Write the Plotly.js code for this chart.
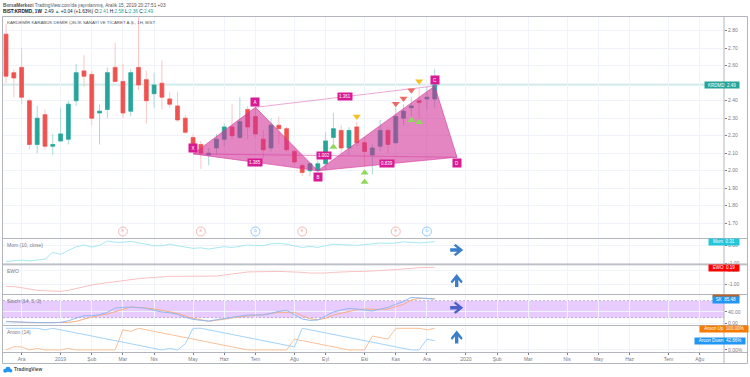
<!DOCTYPE html>
<html>
<head>
<meta charset="utf-8">
<script src="https://cdn.plot.ly/plotly-3.0.1.min.js"></script>
<style>html,body{margin:0;padding:0;background:#fff}#c{width:750px;height:377px}</style>
</head>
<body>
<div id="c"></div>
<script>
const dates = ['2018-11-19','2018-11-26','2018-12-03','2018-12-10','2018-12-17','2018-12-24','2018-12-31',
'2019-01-07','2019-01-14','2019-01-21','2019-01-28','2019-02-04','2019-02-11','2019-02-18','2019-02-25',
'2019-03-04','2019-03-11','2019-03-18','2019-03-25','2019-04-01','2019-04-08','2019-04-15','2019-04-22','2019-04-29',
'2019-05-06','2019-05-13','2019-05-20','2019-05-27','2019-06-03','2019-06-10','2019-06-17','2019-06-24',
'2019-07-01','2019-07-08','2019-07-15','2019-07-22','2019-07-29','2019-08-05','2019-08-12','2019-08-19','2019-08-26',
'2019-09-02','2019-09-09','2019-09-16','2019-09-23','2019-09-30','2019-10-07','2019-10-14','2019-10-21','2019-10-28',
'2019-11-04','2019-11-11','2019-11-18','2019-11-25','2019-12-02','2019-12-09'];
const opens = [2.78,2.56,2.59,2.40,2.15,2.32,2.14,2.17,2.18,2.40,2.57,2.55,2.33,2.35,2.59,2.51,2.34,2.59,2.52,2.44,2.50,2.41,2.37,2.30,2.19,2.15,2.09,2.13,2.18,2.25,2.19,2.35,2.31,2.18,2.13,2.26,2.24,2.11,2.03,2.00,2.00,2.04,2.19,2.23,2.13,2.25,2.16,2.09,2.14,2.23,2.16,2.30,2.36,2.40,2.41,2.41];
const closes = [2.54,2.53,2.42,2.15,2.30,2.14,2.15,2.21,2.38,2.56,2.54,2.30,2.34,2.56,2.51,2.33,2.56,2.49,2.40,2.49,2.42,2.38,2.29,2.22,2.14,2.10,2.10,2.18,2.25,2.20,2.28,2.25,2.21,2.12,2.26,2.24,2.12,2.05,1.99,2.04,2.04,2.17,2.24,2.13,2.23,2.16,2.11,2.13,2.23,2.15,2.31,2.34,2.37,2.39,2.42,2.49];
const highs = [2.84,2.58,2.70,2.41,2.37,2.35,2.21,2.36,2.40,2.61,2.66,2.57,2.38,2.59,2.73,2.61,2.58,2.875,2.57,2.56,2.63,2.45,2.45,2.32,2.21,2.17,2.13,2.21,2.27,2.38,2.42,2.37,2.36,2.23,2.30,2.31,2.25,2.12,2.04,2.05,2.06,2.22,2.33,2.26,2.25,2.28,2.19,2.15,2.29,2.24,2.36,2.38,2.42,2.47,2.48,2.58];
const lows = [2.50,2.42,2.38,2.12,2.10,2.12,2.09,2.17,2.15,2.37,2.48,2.26,2.15,2.30,2.51,2.30,2.31,2.46,2.27,2.36,2.35,2.36,2.28,2.21,2.10,2.01,2.03,2.09,2.14,2.18,2.18,2.18,2.19,2.07,2.11,2.15,2.11,2.03,1.97,1.97,1.99,2.00,2.15,2.10,2.09,2.14,2.02,1.98,2.11,2.10,2.15,2.26,2.31,2.27,2.35,2.36];

const mom = [-0.89,-0.87,-0.82,-0.86,-0.80,-0.77,-0.40,-0.51,-0.29,-0.09,0,-0.11,-0.02,0.22,0.15,0.15,0.20,0.13,0.04,-0.04,-0.04,0.05,-0.04,-0.13,-0.18,-0.15,-0.22,-0.15,-0.09,-0.13,-0.05,0,-0.02,-0.04,0.07,0.09,0.04,-0.05,-0.13,-0.07,-0.13,-0.04,0.04,0.02,0,-0.02,0.02,0.07,0.11,0.09,0.11,0.18,0.15,0.11,0.15,0.18];
const ewo = [-1.17,-1.19,-1.27,-1.39,-1.46,-1.49,-1.54,-1.54,-1.46,-1.32,-1.19,-1.07,-0.98,-0.90,-0.83,-0.78,-0.71,-0.61,-0.56,-0.51,-0.46,-0.44,-0.44,-0.44,-0.42,-0.42,-0.42,-0.42,-0.34,-0.29,-0.20,-0.12,-0.10,-0.08,-0.08,-0.08,-0.10,-0.10,-0.15,-0.20,-0.22,-0.20,-0.15,-0.12,-0.08,-0.08,-0.08,-0.03,0.02,0.02,0.05,0.12,0.14,0.19,0.22,0.22];
const stochK = [5.8,4.6,3.4,2.2,2.2,2.2,2.2,3.4,9.3,18.7,26.9,26.9,30.5,38.7,54.0,56.3,57.5,55.2,52.8,45.8,39.9,37.5,31.6,21.0,14.0,10.5,8.1,12.8,17.5,22.2,25.8,29.3,29.3,29.3,35.2,42.2,45.8,31.6,15.2,10.5,11.6,25.8,39.9,46.9,52.8,50.5,46.9,43.4,50.5,56.3,66.9,77.5,91.6,89.3,88.1,85.5];
const stochD = [6.9,4.6,3.4,2.2,2.2,2.2,2.2,2.2,3.4,6.9,15.2,22.2,28.1,32.8,41.0,49.3,57.5,56.3,54.0,50.5,45.8,41.0,35.2,25.8,17.5,12.8,6.9,10.5,15.2,19.9,23.4,25.8,26.9,30.5,35.2,38.7,38.7,38.7,26.9,16.3,12.8,17.5,29.3,36.3,43.4,48.1,50.5,49.3,49.3,50.5,58.7,66.9,82.2,88.1,88.1,86.9];
const aroonUp = [0,14.29,14.29,0,7.14,0,0,0,7.14,0,0,0,0,0,0,92.86,85.71,100,92.86,85.71,78.57,71.43,64.29,57.14,50,42.86,35.71,28.57,21.43,14.29,7.14,0,0,0,0,0,0,50,42.86,35.71,28.57,21.43,14.29,7.14,0,0,0,64.29,57.14,50,100,100,100,100,92.86,100];
const aroonDown = [100,100,100,100,100,92.86,100,92.86,85.71,78.57,71.43,64.29,57.14,50,42.86,35.71,28.57,21.43,14.29,7.14,0,7.14,0,28.57,100,100,92.86,85.71,78.57,71.43,64.29,57.14,50,42.86,35.71,28.57,21.43,14.29,100,92.86,85.71,78.57,71.43,64.29,57.14,50,42.86,35.71,28.57,21.43,14.29,7.14,0,0,50,42.86];

const patternDates = ['2019-05-06','2019-07-01','2019-08-26','2019-12-09','2019-12-29'];
const patternPrices = [2.096,2.362,2.000,2.484,2.077];
const patternLetters = ['X','A','B','C','D'];
const ratioLabels = ['1.385','1.002','1.361','0.839'];

const yellowDates = ['2019-09-30','2019-11-25'];
const yellowPrices = [2.309,2.511];
const redDates = ['2019-11-04','2019-11-11','2019-11-18'];
const redPrices = [2.382,2.412,2.460];
const greenDates = ['2019-09-09','2019-10-07','2019-10-07','2019-11-18','2019-11-25'];
const greenPrices = [2.136,1.989,1.936,2.288,2.277];

const earningDates = ['2019-03-04','2019-05-13','2019-08-12','2019-11-04'];
const dividendDates = ['2019-07-01','2019-12-02'];

const tickDates = ['2018-12-03','2019-01-07','2019-02-04','2019-03-04','2019-04-01','2019-05-06','2019-06-03','2019-07-01','2019-08-05','2019-09-02','2019-10-07','2019-11-04','2019-12-02','2020-01-06','2020-02-03','2020-03-02','2020-04-06','2020-05-04','2020-06-01','2020-07-06','2020-08-03'];
const tickNames = ['Ara','2019','Şub','Mar','Nis','May','Haz','Tem','Ağu','Eyl','Eki','Kas','Ara','2020','Şub','Mar','Nis','May','Haz','Tem','Ağu'];
const priceTicks = [1.7,1.8,1.9,2.0,2.1,2.2,2.3,2.4,2.5,2.6,2.7,2.8];

const FONT = '"Liberation Sans", Arial, sans-serif';
const GRID = '#f0f3fa', FRAME = '#b2b5be', TICK = '#787b86';
const TEAL = '#26a69a', RED = '#ef5350', PINK = '#d81b94';
const L = 3, R = 724.5, T = 17, B = 352, W = R - L, H = B - T;
const px = x => (x - L) / W;
const py = y => (B - y) / H;
const dom = (top, bot) => [py(bot), py(top)];

function yax(domain, range, vals, texts) {
  return {domain, range, side:'right', anchor:'x', tickmode:'array', tickvals:vals, ticktext:texts,
    showgrid:true, gridcolor:GRID, gridwidth:1, zeroline:false, showline:false,
    ticks:'outside', ticklen:2, tickcolor:TICK, tickwidth:1, tickfont:{size:5, color:TICK, family:FONT}};
}

const traces = [
  // wicks (pale), then solid bodies from the same values
  {type:'candlestick', x:dates, open:opens, high:highs, low:lows, close:closes, xaxis:'x', yaxis:'y', whiskerwidth:0,
   increasing:{line:{color:'#a8dbd6', width:1}, fillcolor:'#a8dbd6'},
   decreasing:{line:{color:'#fac6c5', width:1}, fillcolor:'#fac6c5'}},
  {type:'candlestick', x:dates, open:opens, close:closes,
   high:opens.map((o,i)=>Math.max(o,closes[i])), low:opens.map((o,i)=>Math.min(o,closes[i])), xaxis:'x', yaxis:'y', whiskerwidth:0,
   increasing:{line:{color:TEAL, width:0.6}, fillcolor:TEAL},
   decreasing:{line:{color:RED, width:0.6}, fillcolor:RED}},
  {type:'scatter', mode:'lines', x:[patternDates[0],patternDates[1],patternDates[2],patternDates[0]],
   y:[patternPrices[0],patternPrices[1],patternPrices[2],patternPrices[0]], fill:'toself',
   fillcolor:'rgba(206,47,150,0.58)', line:{color:'rgba(216,60,160,0.6)', width:1}},
  {type:'scatter', mode:'lines', x:[patternDates[2],patternDates[3],patternDates[4],patternDates[2]],
   y:[patternPrices[2],patternPrices[3],patternPrices[4],patternPrices[2]], fill:'toself',
   fillcolor:'rgba(206,47,150,0.58)', line:{color:'rgba(216,60,160,0.6)', width:1}},
  {type:'scatter', mode:'lines', x:[patternDates[1],patternDates[3]], y:[patternPrices[1],patternPrices[3]],
   line:{color:'rgba(216,60,160,0.45)', width:1}},
  {type:'scatter', mode:'lines', x:[patternDates[0],patternDates[4]], y:[patternPrices[0],patternPrices[4]],
   line:{color:'rgba(216,60,160,0.55)', width:1}},
  {type:'scatter', mode:'markers', x:yellowDates, y:yellowPrices,
   marker:{symbol:'triangle-down', size:7, color:'#f6c026', line:{width:0}}},
  {type:'scatter', mode:'markers', x:redDates, y:redPrices,
   marker:{symbol:'triangle-down', size:7, color:'#ee6a62', line:{width:0}}},
  {type:'scatter', mode:'markers', x:greenDates, y:greenPrices,
   marker:{symbol:'triangle-up', size:7, color:'#8fd95b', line:{width:0}}},
  {type:'scatter', mode:'markers+text', x:earningDates, y:earningDates.map(()=>1.653), text:earningDates.map(()=>'E'),
   textposition:'middle center', textfont:{size:4, color:'#f2a09d', family:FONT},
   marker:{symbol:'circle-open', size:9, color:'#f6b9b6', line:{width:1, color:'#f6b9b6'}}},
  {type:'scatter', mode:'markers+text', x:dividendDates, y:dividendDates.map(()=>1.653), text:dividendDates.map(()=>'D'),
   textposition:'middle center', textfont:{size:4, color:'#64b5f6', family:FONT},
   marker:{symbol:'circle-open', size:9, color:'#90caf9', line:{width:1, color:'#90caf9'}}},
  {type:'scatter', mode:'lines', x:dates, y:mom, xaxis:'x', yaxis:'y2', line:{color:'#a6e8f0', width:1}},
  {type:'scatter', mode:'lines', x:dates, y:ewo, xaxis:'x', yaxis:'y3', line:{color:'#fac0c0', width:1}},
  {type:'scatter', mode:'lines', x:dates, y:stochD, xaxis:'x', yaxis:'y4', line:{color:'#f7ad80', width:1}},
  {type:'scatter', mode:'lines', x:dates, y:stochK, xaxis:'x', yaxis:'y4', line:{color:'#8fb8f2', width:1}},
  {type:'scatter', mode:'lines', x:dates, y:aroonUp, xaxis:'x', yaxis:'y5', line:{color:'#fac096', width:1}},
  {type:'scatter', mode:'lines', x:dates, y:aroonDown, xaxis:'x', yaxis:'y5', line:{color:'#a2d3fa', width:1}}
];

function hline(y) {
  return {type:'line', xref:'paper', yref:'paper', x0:px(2.5), x1:px(748), y0:py(y), y1:py(y), line:{color:FRAME, width:1}};
}
function vline(x) {
  return {type:'line', xref:'paper', yref:'paper', x0:px(x), x1:px(x), y0:py(16.5), y1:py(363.5), line:{color:FRAME, width:1}};
}
function polyPath(pts) {
  return 'M' + pts.map(p => px(p[0]) + ',' + py(p[1])).join('L') + 'Z';
}
const arrowPts = [[-6.5,-1.7],[0.5,-1.7],[-3,-4.6],[-1,-6],[6.5,0],[-1,6],[-3,4.6],[0.5,1.7],[-6.5,1.7]];
function arrowShape(cx, cy, up, color) {
  const pts = arrowPts.map(p => up ? [cx + p[1], cy - p[0]] : [cx + p[0], cy + p[1]]);
  return {type:'path', xref:'paper', yref:'paper', path:polyPath(pts), fillcolor:color, line:{width:0}};
}
function disc(cx, cy, r) {
  return {type:'circle', xref:'paper', yref:'paper', x0:px(cx-r), x1:px(cx+r), y0:py(cy+r), y1:py(cy-r), fillcolor:'#2196f3', line:{width:0}};
}
const shapes = [
  {type:'rect', layer:'below', xref:'paper', yref:'y4', x0:0, x1:1, y0:20, y1:80, fillcolor:'rgba(153,21,255,0.22)', line:{width:0}},
  {type:'line', layer:'below', xref:'paper', yref:'y4', x0:0, x1:1, y0:80, y1:80, line:{color:'#a896b8', width:0.7, dash:'2px,2px'}},
  {type:'line', layer:'below', xref:'paper', yref:'y4', x0:0, x1:1, y0:20, y1:20, line:{color:'#a896b8', width:0.7, dash:'2px,2px'}},
  {type:'line', layer:'below', xref:'paper', yref:'y', x0:0, x1:1, y0:2.49, y1:2.49, line:{color:'rgba(38,166,154,0.35)', width:1}},
  hline(16.5), hline(238.5), hline(264), hline(264.8), hline(294.5), hline(325.5), hline(352.5), hline(363.5),
  vline(2.5), vline(724.5), vline(748),
  arrowShape(457, 250, false, '#3a7fc8'),
  arrowShape(457, 280.5, true, '#3a7fc8'),
  arrowShape(457, 307.7, false, '#4a62c8'),
  arrowShape(457, 337, true, '#3a7fc8'),
  disc(5.2, 370.8, 2), disc(8, 369.3, 2.6), disc(10.6, 370.8, 1.8)
];

function txt(x, y, text, size, color) {
  return {xref:'paper', yref:'paper', x:px(x), y:py(y), text, showarrow:false, xanchor:'left', yanchor:'middle',
    align:'left', font:{size:size||5, color:color||'#50535e', family:FONT}, borderpad:0};
}
function tag(x0, x1, y0, y1, text, bg) {
  return {xref:'paper', yref:'paper', x:px((x0+x1)/2), y:py((y0+y1)/2), text, showarrow:false,
    xanchor:'center', yanchor:'middle', width:x1-x0, height:y1-y0, bgcolor:bg, borderpad:0, align:'center',
    font:{size:4.5, color:'#fff', family:FONT}};
}
function pink(i, yshift) {
  return {xref:'x', yref:'y', x:patternDates[i], y:patternPrices[i], yshift, text:patternLetters[i], showarrow:false, bgcolor:PINK, borderpad:1,
    width:6, height:6, font:{size:4.5, color:'#fff', family:FONT}};
}
function mid(a, b) {
  const ta = new Date(patternDates[a]).getTime(), tb = new Date(patternDates[b]).getTime();
  return new Date((ta+tb)/2).toISOString().slice(0,10);
}
function ratio(a, b, text) {
  return {xref:'x', yref:'y', x:mid(a,b), y:(patternPrices[a]+patternPrices[b])/2, text, showarrow:false, bgcolor:PINK, borderpad:1,
    font:{size:4.5, color:'#fff', family:FONT}};
}
const V = '#26a69a';
const annotations = [
  txt(2, 5, "<b>BorsaMerkezi</b> TradingView.com'da yayınlanmış, Aralık 15, 2019 20:27:51 +03", 4.7, '#50535e'),
  txt(2, 11, `<b>BIST:KRDMD, 1W</b>  2.49 <span style="color:${V}">▲</span> +0.04 (+1.63%) O:<span style="color:${V}">2.41</span> H:<span style="color:${V}">2.58</span> L:<span style="color:${V}">2.36</span> C:<span style="color:${V}">2.49</span>`, 4.7, '#131722'),
  txt(6, 23, 'KARDEMİR KARABÜK DEMİR ÇELİK SANAYİ VE TİCARET A.Ş., 1H, BIST', 4.4, '#50535e'),
  txt(6, 244.5, 'Mom (10, close)', 5, TICK),
  txt(6, 270.5, 'EWO', 5, TICK),
  txt(6, 300.5, 'Stoch (14, 3, 3)', 5, TICK),
  txt(6, 332, 'Aroon (14)', 5, TICK),
  tag(705.7, 740, 82.3, 88.3, 'KRDMD  2.49', TEAL),
  tag(710, 740, 238.8, 244.7, 'Mom  0.31', '#26c6da'),
  tag(710, 740, 264.6, 270.4, 'EWO  0.19', '#ff0000'),
  {xref:'paper', yref:'paper', x:px(727), y:py(295.7), xanchor:'center', yanchor:'middle', text:' ', showarrow:false, width:26, height:2.4, bgcolor:'#b5622a', borderpad:0},
  tag(714, 740, 296.8, 302.4, 'SK  85.48', '#2196f3'),
  tag(700, 748, 326, 331.8, 'Aroon Up  100.00%', '#f57c00'),
  tag(695, 745, 337.8, 343.6, 'Aroon Down  42.86%', '#2196f3'),
  txt(13, 370, '<b>TradingView</b>', 4.8, '#4a4e5a'),
  pink(0,6), pink(1,5), pink(2,-6), pink(3,6), pink(4,-6),
  ratio(0,2,ratioLabels[0]), ratio(0,4,ratioLabels[1]), ratio(1,3,ratioLabels[2]), ratio(2,4,ratioLabels[3])
];

const layout = {
  width:750, height:377, margin:{l:L, r:750-R, t:T, b:377-B, pad:0},
  paper_bgcolor:'#fff', plot_bgcolor:'#fff', showlegend:false, hovermode:false, dragmode:false, boxgap:0.3,
  font:{family:FONT, size:5, color:TICK},
  xaxis:{type:'date', anchor:'y5', range:['2018-11-16 07:00','2020-08-24 19:00'], rangeslider:{visible:false},
    tickmode:'array', tickvals:tickDates, ticktext:tickNames, showgrid:true, gridcolor:GRID, gridwidth:1,
    ticks:'outside', ticklen:2, tickcolor:TICK, tickfont:{size:5, color:TICK, family:FONT}, showline:false, zeroline:false},
  yaxis:yax(dom(17,238.3),[1.614,2.878],priceTicks,priceTicks.map(v=>v===2.5?'':v.toFixed(2))),
  yaxis2:yax(dom(238.3,264),[-1.03,0.366],[-1,0],['-1.00','0.00']),
  yaxis3:yax(dom(264,294.3),[-1.75,0.46],[-1,0],['-1.00','0.00']),
  yaxis4:yax(dom(294.3,325.3),[-7,102.5],[0,40],['0.00','40.00']),
  yaxis5:yax(dom(325.3,352),[-9.5,113.8],[0],['0.00%']),
  shapes, annotations
};
Plotly.newPlot('c', traces, layout, {staticPlot:true, displayModeBar:false, responsive:false});
</script>
</body>
</html>
